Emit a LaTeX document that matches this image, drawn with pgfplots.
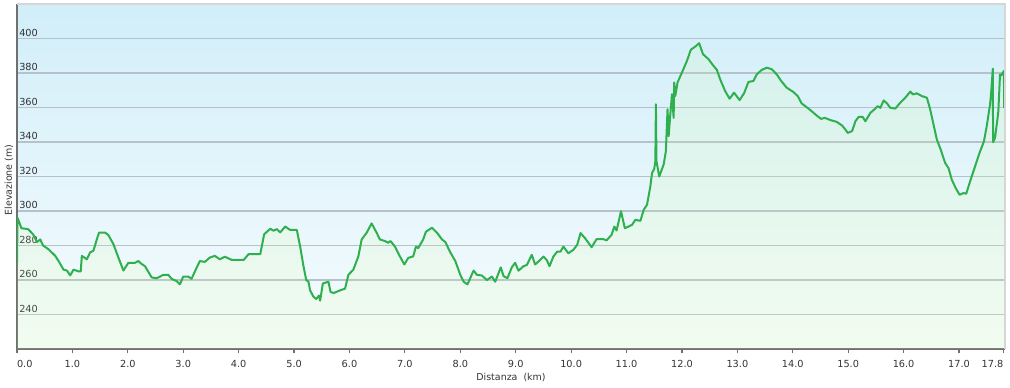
\documentclass[border=0pt]{standalone}
\usepackage{pgfplots}
\pgfplotsset{compat=1.18}
\usepackage{pgfplotstable}
\usepackage{fontspec}
\setmainfont{DejaVu Sans}
\definecolor{bgTop}{RGB}{209,238,249}
\definecolor{bgBot}{RGB}{247,252,254}
\definecolor{ovc}{RGB}{215,255,150}
\definecolor{gridc}{RGB}{182,194,202}
\definecolor{linec}{RGB}{46,176,78}
\definecolor{axisc}{RGB}{112,112,112}
\definecolor{borderc}{RGB}{214,214,214}
\definecolor{textc}{RGB}{51,51,51}
\pgfplotstableread{
km elev
0.00 270
0.01 296
0.08 290
0.20 289.5
0.29 286.5
0.36 282
0.42 283.5
0.47 280
0.57 277.8
0.69 274
0.75 271
0.84 266
0.90 265.5
0.96 262.7
1.02 266
1.11 265
1.15 265
1.17 274
1.26 272
1.32 276
1.38 277
1.44 283.5
1.48 287.5
1.59 287.5
1.65 286
1.74 280.8
1.83 273
1.92 265.5
2.01 270
2.13 270
2.19 271
2.24 269.5
2.31 268
2.43 261.5
2.52 261
2.64 263
2.73 263
2.79 260.7
2.88 259.4
2.94 257.5
3.00 262
3.09 262
3.15 260.7
3.24 267
3.30 271
3.39 270.5
3.48 273
3.57 274
3.66 272
3.75 273.5
3.88 271.6
4.09 271.6
4.18 275
4.39 275
4.46 286.5
4.57 289.7
4.63 288.6
4.69 289.5
4.75 287.6
4.84 291
4.93 289
5.05 289
5.11 279.4
5.17 268
5.22 260
5.26 259
5.29 254
5.35 250.3
5.40 249
5.45 251
5.47 248
5.52 258
5.62 259
5.66 253
5.72 252.5
5.83 254
5.92 255
5.98 263
6.07 266
6.16 273.7
6.22 283.5
6.31 287.4
6.40 292.8
6.49 287.4
6.55 283.5
6.64 282.6
6.70 281.6
6.74 282.6
6.82 279.4
6.91 273.7
6.99 269
7.06 272.8
7.15 273.7
7.20 279.4
7.24 278.5
7.33 283.5
7.38 288
7.49 290.3
7.58 287.4
7.67 283.5
7.73 282
7.82 276
7.91 271
8.00 263
8.06 259
8.13 257.5
8.24 265.5
8.30 263
8.39 262.6
8.48 260
8.57 262
8.63 259
8.73 267.3
8.78 262.3
8.85 261
8.93 267.4
8.99 270
9.05 265.4
9.14 268
9.20 268.7
9.29 274.6
9.35 269
9.44 271.6
9.50 273.6
9.56 271.6
9.61 268
9.68 273.6
9.75 276.5
9.81 276.5
9.86 279.4
9.95 275.5
10.04 277.5
10.11 280.4
10.17 287.2
10.25 284.3
10.37 279
10.46 283.7
10.58 283.7
10.64 283
10.73 286.2
10.78 291
10.82 288.7
10.90 299.8
10.97 290
11.10 292
11.16 294.9
11.25 294.3
11.31 300.7
11.37 303.7
11.43 314.3
11.46 322
11.50 324.4
11.52 328.9
11.53 361.9
11.54 328.9
11.59 320
11.67 327
11.71 334.7
11.74 359
11.76 343.4
11.79 356
11.82 367.7
11.85 354
11.86 374.5
11.88 366.7
11.92 374.5
12.00 380.3
12.09 387
12.16 393.5
12.24 395.3
12.31 397.3
12.38 390.9
12.48 388
12.56 384.5
12.63 381.8
12.69 376.3
12.78 369.5
12.86 365.1
12.94 368.6
13.04 364.3
13.12 368.2
13.20 374.8
13.29 375.4
13.35 379.2
13.44 381.8
13.53 383.1
13.62 382.2
13.71 379.2
13.79 375.4
13.89 371.5
14.01 369
14.09 366.6
14.16 362.4
14.25 360.2
14.34 357.9
14.43 355.4
14.51 353.4
14.58 354
14.68 352.7
14.79 351.7
14.89 349.6
14.95 347.2
14.99 345.3
15.07 346.3
15.13 352
15.19 354.6
15.26 354.6
15.31 352
15.40 356.9
15.49 359.4
15.53 360.8
15.58 359.8
15.64 364.1
15.70 362.4
15.76 359.8
15.85 359.4
15.94 362.8
16.03 365.7
16.12 369.2
16.17 367.6
16.24 368.2
16.33 366.6
16.42 365.7
16.48 358.9
16.54 350.1
16.60 341.4
16.67 335.6
16.75 327.8
16.81 324.9
16.87 318.1
16.94 313.3
17.01 309.4
17.08 310.4
17.13 310
17.20 317.2
17.29 325.9
17.37 333.7
17.45 340.4
17.50 349.2
17.56 361.8
17.58 368.6
17.61 382.5
17.615 339.9
17.65 342.4
17.70 355
17.71 357.9
17.74 379.2
17.76 378.6
17.80 380.6
17.81 381.2
17.815 359.8
}\elevdata
\begin{document}
\begin{tikzpicture}
\begin{axis}[
  name=ax,
  scale only axis,
  width=741pt, height=258.75pt,
  xmin=0, xmax=17.83, ymin=220, ymax=420,
  axis background/.style={shade, top color=bgTop, bottom color=bgBot},
  axis x line*=bottom, axis y line*=left,
  x axis line style={axisc, line width=2pt},
  y axis line style={axisc, line width=1.3pt},
  xtick={0,1,2,3,4,5,6,7,8,9,10,11,12,13,14,15,16,17,17.8},
  xticklabels={\rlap{0.0},1.0,2.0,3.0,4.0,5.0,6.0,7.0,8.0,9.0,10.0,11.0,12.0,13.0,14.0,15.0,16.0,17.0,\llap{17.8}},
  ytick={240,260,280,300,320,340,360,380,400},
  tick align=outside,
  major tick length=3pt,
  xtick style={axisc, line width=0.9pt},
  ytick style={draw=none},
  ymajorgrids,
  major grid style={gridc, line width=0.9pt},
  /pgf/number format/assume math mode=true,
  tick label style={font=\fontsize{7.3}{8.5}\selectfont, text=textc},
  xticklabel style={anchor=north, inner sep=0pt, yshift=-5pt},
  yticklabel style={anchor=south west, inner sep=0pt, xshift=4.5pt, yshift=1.5pt},
  xlabel={Distanza\ \ (km)},
  ylabel={Elevazione (m)},
  label style={font=\fontsize{7.1}{8.5}\selectfont, text=textc},
  xlabel style={at={(axis description cs:0.5,0)}, anchor=center, yshift=-21.75pt},
  ylabel style={at={(axis description cs:-0.0081,0.49)}, anchor=center},
  after end axis/.code={
    \draw[borderc, line width=2pt] (rel axis cs:0,1) -- (rel axis cs:1,1) -- (rel axis cs:1,0);
  },
]
\addplot[draw=none, fill=ovc, fill opacity=0.13, forget plot] table[x=km,y=elev] {\elevdata} \closedcycle;
\addplot[linec, line width=1.5pt, line join=round, mark=none] table[x=km,y=elev] {\elevdata};
\end{axis}
\pgfresetboundingbox
\path[use as bounding box] ([xshift=-12.75pt,yshift=-28.5pt]ax.south west) rectangle ([xshift=3.75pt,yshift=3pt]ax.north east);
\end{tikzpicture}
\end{document}
